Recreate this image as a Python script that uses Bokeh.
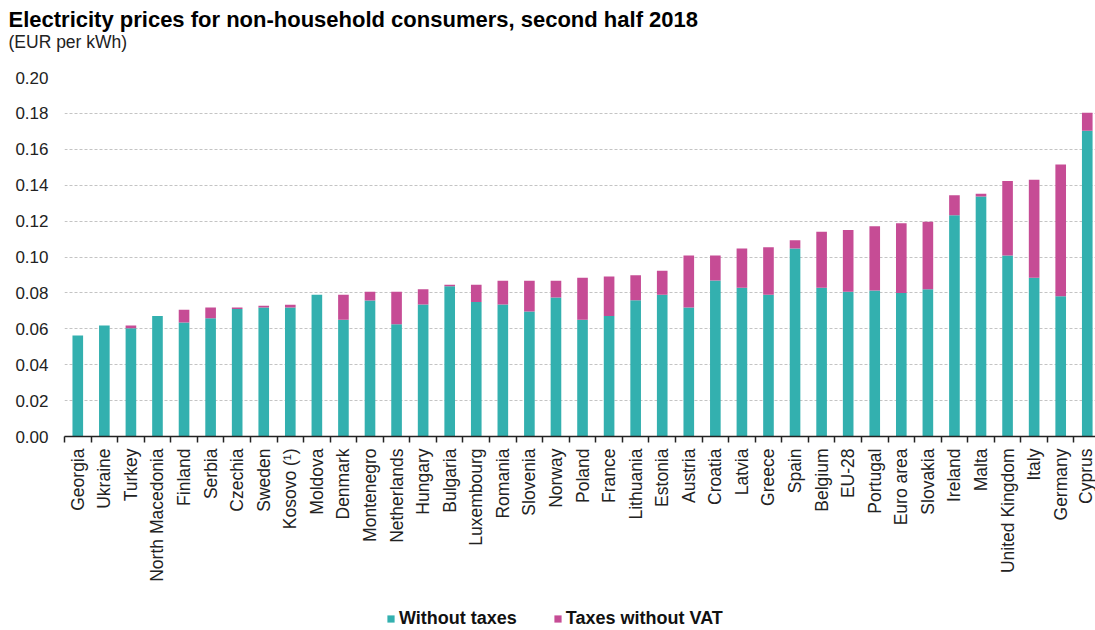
import math
from bokeh.plotting import figure
from bokeh.layouts import column
from bokeh.models import (Range1d, FixedTicker, Label, Legend, LegendItem,
                          ColumnDataSource, NumeralTickFormatter)
from bokeh.embed import file_html
from bokeh.resources import INLINE

countries = ["Georgia", "Ukraine", "Turkey", "North Macedonia", "Finland", "Serbia",
             "Czechia", "Sweden", "Kosovo (¹)", "Moldova", "Denmark", "Montenegro",
             "Netherlands", "Hungary", "Bulgaria", "Luxembourg", "Romania", "Slovenia",
             "Norway", "Poland", "France", "Lithuania", "Estonia", "Austria", "Croatia",
             "Latvia", "Greece", "Spain", "Belgium", "EU-28", "Portugal", "Euro area",
             "Slovakia", "Ireland", "Malta", "United Kingdom", "Italy", "Germany", "Cyprus"]

without_taxes = [0.0563, 0.0618, 0.0603, 0.0672, 0.0635, 0.0659, 0.0711, 0.0719, 0.0719,
                 0.0789, 0.0650, 0.0758, 0.0626, 0.0735, 0.0837, 0.0750, 0.0735, 0.0696,
                 0.0774, 0.0650, 0.0672, 0.0759, 0.0789, 0.0719, 0.0869, 0.0828, 0.0789,
                 0.1047, 0.0828, 0.0806, 0.0813, 0.0799, 0.0821, 0.1233, 0.1337, 0.1008,
                 0.0884, 0.0782, 0.1703]

taxes_without_vat = [0.0, 0.0, 0.0015, 0.0, 0.0071, 0.0060, 0.0008, 0.0009, 0.0015,
                     0.0, 0.0139, 0.0048, 0.0180, 0.0086, 0.0008, 0.0095, 0.0132, 0.0171,
                     0.0093, 0.0234, 0.0219, 0.0140, 0.0134, 0.0289, 0.0139, 0.0219, 0.0266,
                     0.0047, 0.0312, 0.0344, 0.0359, 0.0389, 0.0375, 0.0111, 0.0015, 0.0415,
                     0.0546, 0.0733, 0.0100]

y_ticks = [0.0, 0.02, 0.04, 0.06, 0.08, 0.10, 0.12, 0.14, 0.16, 0.18, 0.20]

title_text = "Electricity prices for non-household consumers, second half 2018"
subtitle_text = "(EUR per kWh)"
series_names = ["Without taxes", "Taxes without VAT"]
colors = ["#33B0AF", "#C64C95"]

FONT = "Liberation Sans"
W = 1095
HEAD_H = 65
LEG_H = 30
MAIN_H = 630 - HEAD_H - LEG_H
n = len(countries)
idx = list(range(n))

source = ColumnDataSource(dict(x=idx, a=without_taxes, b=taxes_without_vat))

# ---------- header (title + subtitle) ----------
head = figure(width=W, height=HEAD_H, output_backend="svg", toolbar_location=None,
              x_axis_location=None, y_axis_location=None,
              min_border=0, min_border_left=0, min_border_right=0,
              min_border_top=0, min_border_bottom=0,
              outline_line_color=None, frame_align=False)
head.grid.visible = False
head.add_layout(Label(x=8, y=HEAD_H - 19, x_units="screen", y_units="screen",
                      text=title_text, text_font=FONT, text_font_size="22px",
                      text_font_style="bold", text_color="#000000",
                      text_baseline="alphabetic"))
head.add_layout(Label(x=8, y=HEAD_H - 41, x_units="screen", y_units="screen",
                      text=subtitle_text, text_font=FONT, text_font_size="17.5px",
                      text_color="#222222", text_baseline="alphabetic"))

# ---------- main chart ----------
p = figure(width=W, height=MAIN_H, output_backend="svg", toolbar_location=None,
           x_range=Range1d(-0.5, n - 0.69), y_range=Range1d(0, 0.2),
           min_border_left=64, min_border_right=0, min_border_top=12,
           min_border_bottom=164, frame_align=False)

rs = p.vbar_stack(["a", "b"], x="x", width=0.4, source=source, color=colors, line_width=0)

p.outline_line_color = None

xa = p.xaxis[0]
xa.ticker = FixedTicker(ticks=idx, minor_ticks=[i - 0.5 for i in range(n + 1)])
xa.major_label_overrides = {i: c for i, c in enumerate(countries)}
xa.major_label_orientation = math.pi / 2
xa.major_tick_in = 0
xa.major_tick_out = 0
xa.minor_tick_in = 0
xa.minor_tick_out = 6
xa.minor_tick_line_color = "#222222"
xa.minor_tick_line_width = 1.5
xa.axis_line_color = "#222222"
xa.axis_line_width = 1.5
xa.major_label_text_font = FONT
xa.major_label_text_font_size = "17.5px"
xa.major_label_text_color = "#222222"
xa.major_label_standoff = 6

ya = p.yaxis[0]
ya.ticker = FixedTicker(ticks=y_ticks)
ya.formatter = NumeralTickFormatter(format="0.00")
ya.axis_line_color = None
ya.major_tick_in = 0
ya.major_tick_out = 0
ya.minor_tick_line_color = None
ya.major_label_standoff = 16
ya.major_label_text_font = FONT
ya.major_label_text_font_size = "17px"
ya.major_label_text_color = "#222222"

p.xgrid.visible = False
p.ygrid.ticker = FixedTicker(ticks=y_ticks[1:])
p.ygrid.grid_line_color = "#C4C4C4"
p.ygrid.grid_line_dash = "3 2"
p.ygrid.grid_line_width = 1

# ---------- legend strip (legend proxies share the data, kept out of view) ----------
lf = figure(width=W, height=LEG_H, output_backend="svg", toolbar_location=None,
            x_axis_location=None, y_axis_location=None,
            x_range=Range1d(-10, -9), y_range=Range1d(0, 1),
            min_border=0, min_border_left=0, min_border_right=0,
            min_border_top=0, min_border_bottom=0,
            outline_line_color=None, frame_align=False)
lf.grid.visible = False
lr = lf.vbar_stack(["a", "b"], x="x", width=0.4, source=source, color=colors, line_width=0)
legend = Legend(items=[LegendItem(label=series_names[0], renderers=[lr[0]]),
                       LegendItem(label=series_names[1], renderers=[lr[1]])],
                orientation="horizontal", location=(386, 1),
                label_text_font=FONT, label_text_font_size="18px",
                label_text_font_style="bold", label_text_color="#111111",
                glyph_width=9, glyph_height=9, label_standoff=4, spacing=36,
                border_line_color=None, background_fill_alpha=0,
                padding=2, margin=0)
lf.add_layout(legend, "center")

layout = column(head, p, lf, spacing=0)
open("out.html", "w").write(file_html(layout, INLINE))
